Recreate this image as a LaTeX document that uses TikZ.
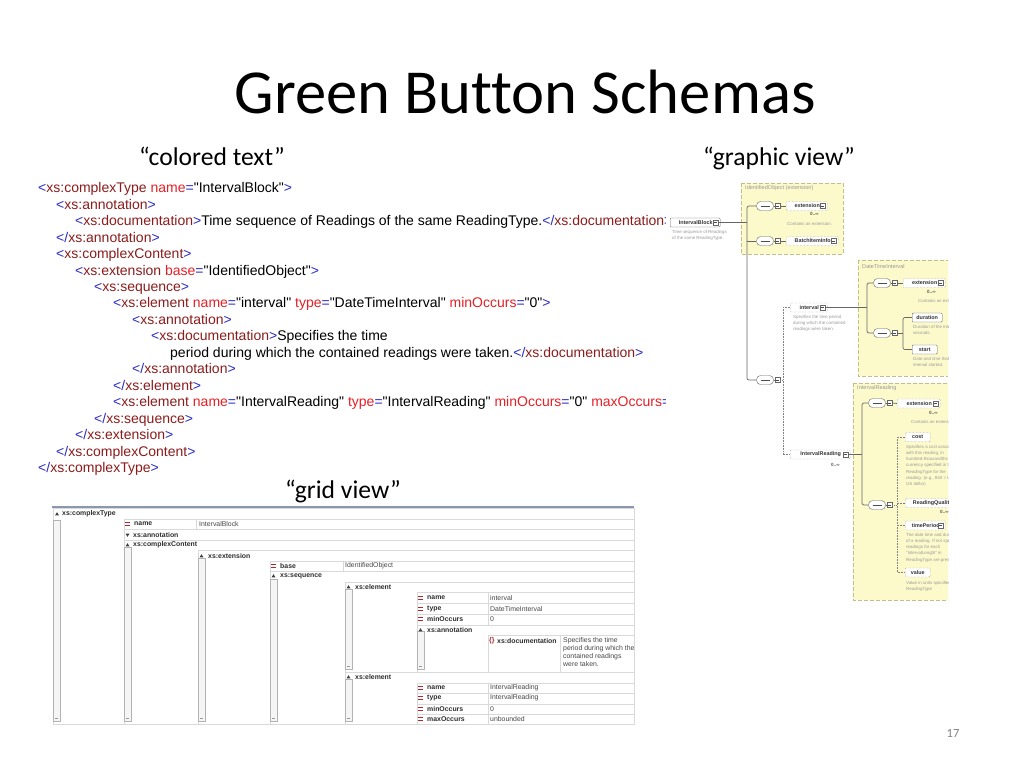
\documentclass[tikz,border=0pt]{standalone}
\usepackage{fontspec}
\setmainfont{Carlito}[Ligatures=NoCommon]
\newfontfamily\arial{Liberation Sans}
\usetikzlibrary{calc}
\definecolor{xb}{HTML}{2B2BC8}
\definecolor{xm}{HTML}{8C1C1C}
\definecolor{xr}{HTML}{E52027}
\definecolor{yel}{HTML}{FCFACB}
\definecolor{yelb}{HTML}{C4BE8A}
\definecolor{gl}{HTML}{D9D9D9}
\definecolor{gtop}{HTML}{8A97AD}
\definecolor{eqred}{HTML}{B0282C}
\newcommand\xo[1]{\textcolor{xb}{<}\textcolor{xm}{#1}}
\newcommand\xcl[1]{\textcolor{xb}{</}\textcolor{xm}{#1}}
\newcommand\xg{\textcolor{xb}{>}}
\newcommand\xat[2]{\ \textcolor{xr}{#1}\textcolor{xb}{=}"#2"}
\tikzset{
 code/.style={anchor=base west, inner sep=0pt, font=\arial\fontsize{14}{16}\selectfont},
 sub/.style={anchor=base, inner sep=0pt, font=\fontsize{25.6}{30}\selectfont},
 gb/.style={anchor=west, inner sep=0pt, font=\arial\bfseries\fontsize{6.9}{7.5}\selectfont, text=black!82},
 gv/.style={anchor=west, inner sep=0pt, font=\arial\fontsize{6.9}{8}\selectfont, text=black!72},
 gline/.style={draw=gl, line width=0.6pt},
 sbarst/.style={draw=black!30, fill=black!4, line width=0.5pt},
 ybox/.style={fill=yel, draw=yelb, line width=0.7pt, dash pattern=on 4pt off 2pt},
 ylab/.style={anchor=west, inner sep=0pt, font=\arial\fontsize{5.6}{6}\selectfont, text=black!40},
 tiny/.style={anchor=north west, inner sep=0pt, align=left, font=\arial\fontsize{4.4}{6.2}\selectfont, text=black!40},
 mult/.style={anchor=north west, inner sep=0pt, font=\arial\bfseries\fontsize{4.6}{5}\selectfont, text=black!65},
 gel/.style={anchor=west, draw=black!55, densely dotted, fill=white, rounded corners=1pt, minimum height=9pt, inner sep=0pt, font=\arial\bfseries\fontsize{5.4}{6}\selectfont, text=black!80},
 gels/.style={gel, solid, draw=black!60},
 sq/.style={draw=black!60, solid, fill=white, minimum size=5pt, inner sep=0pt, rounded corners=0pt, path picture={\draw[black!70, line width=0.4pt] ([xshift=1pt]path picture bounding box.west) -- ([xshift=-1pt]path picture bounding box.east);}},
 comp/.style={draw=black!60, fill=white, rounded corners=4pt, minimum width=17pt, minimum height=9pt, inner sep=0pt},
 conn/.style={draw=black!60, line width=0.7pt},
 dconn/.style={draw=black!50, line width=0.6pt, densely dotted},
}
\newcommand\compo[3]{%
 \node[comp] (#1) at (#2,#3) {};
 \draw[black!70, line width=0.6pt] ($(#1.center)+(-4.5,0)$) -- ($(#1.center)+(4.5,0)$);
 \node[sq] (#1s) at ($(#1.east)+(4,0)$) {};
 \draw[conn] (#1.east) -- (#1s.west);}
\newcommand\elbox[6]{%
 \node[#1, minimum width=#5pt] (#2) at (#3,#4) {\hspace{1pt}#6\hspace{8pt}};
 \node[sq] (#2s) at ($(#2.east)+(-4.5,0)$) {};}
\newcommand\tri[2]{\fill[black!75] ({#1-2},{#2+1.4}) -- ({#1+2},{#2+1.4}) -- (#1,{#2-1.8}) -- cycle;}
\newcommand\trd[2]{\fill[black!75] ({#1-2},{#2-1.4}) -- ({#1+2},{#2-1.4}) -- (#1,{#2+1.8}) -- cycle;}
\newcommand\eqi[2]{\fill[eqred] (#1,{#2-1.7}) rectangle ++(5,1.1); \fill[eqred] (#1,{#2+0.6}) rectangle ++(5,1.1);}
\newcommand\sbar[3]{\draw[sbarst] (#1,#2) rectangle ({#1+7},#3); \draw[black!40,line width=0.4pt] ({#1+2},{#3-3}) -- ({#1+5},{#3-3});}
\begin{document}
\begin{tikzpicture}[x=1pt,y=-1pt]
\useasboundingbox (0,0) rectangle (1024,768);
\fill[white] (0,0) rectangle (1024,768);
% title and captions
\node[anchor=base, inner sep=0pt, font=\fontsize{62.6}{70}\selectfont] (title) at (525,113) {Green Button Schemas};
\node[sub] (s1) at (212,165) {“colored text”};
\node[sub] (s2) at (779,165) {“graphic view”};
\node[sub] (s3) at (343,498) {“grid view”};
\node[inner sep=0pt, font=\fontsize{12.5}{14}\selectfont, text=black!50] (pg) at (953,733) {17};
% colored text
\begin{scope}
\clip (0,170) rectangle (665,480);
\node[code] (l1) at (38,192) {\xo{xs:complexType}\xat{name}{IntervalBlock}\xg};
\node[code] (l2) at (56,209) {\xo{xs:annotation}\xg};
\node[code] (l3) at (75,225) {\xo{xs:documentation}\xg Time sequence of Readings of the same ReadingType.\xcl{xs:documentation}\xg};
\node[code] (l4) at (56,242) {\xcl{xs:annotation}\xg};
\node[code] (l5) at (56,258) {\xo{xs:complexContent}\xg};
\node[code] (l6) at (75,275) {\xo{xs:extension}\xat{base}{IdentifiedObject}\xg};
\node[code] (l7) at (94,291) {\xo{xs:sequence}\xg};
\node[code] (l8) at (113,307) {\xo{xs:element}\xat{name}{interval}\xat{type}{DateTimeInterval}\xat{minOccurs}{0}\xg};
\node[code] (l9) at (132,324) {\xo{xs:annotation}\xg};
\node[code] (l10) at (151,340) {\xo{xs:documentation}\xg Specifies the time};
\node[code] (l11) at (170,357) {period during which the contained readings were taken.\xcl{xs:documentation}\xg};
\node[code] (l12) at (132,373) {\xcl{xs:annotation}\xg};
\node[code] (l13) at (113,390) {\xcl{xs:element}\xg};
\node[code] (l14) at (113,406) {\xo{xs:element}\xat{name}{IntervalReading}\xat{type}{IntervalReading}\xat{minOccurs}{0}\xat{maxOccurs}{unbounded}\textcolor{xb}{/>}};
\node[code] (l15) at (94,423) {\xcl{xs:sequence}\xg};
\node[code] (l16) at (75,439) {\xcl{xs:extension}\xg};
\node[code] (l17) at (56,456) {\xcl{xs:complexContent}\xg};
\node[code] (l18) at (38,472) {\xcl{xs:complexType}\xg};
\end{scope}
% graphic view
\begin{scope}
\clip (668,178) rectangle (948,604);
\draw[ybox] (741,183) rectangle (843,254);
\draw[ybox] (858,260) rectangle (962,376);
\draw[ybox] (853,383) rectangle (962,600);
\node[ylab] (lb1) at (745,188) {IdentifiedObject (extension)};
\node[ylab] (lb2) at (862,266) {DateTimeInterval};
\node[ylab] (lb3) at (857,388) {IntervalReading};
\elbox{gels}{ib}{670}{222.5}{50}{IntervalBlock}
\node[tiny] (ibd) at (672,230) {Time sequence of Readings\\of the same ReadingType.};
\coordinate (t1) at (747,222.5);
\compo{c1}{765}{206}
\compo{c2}{765}{241}
\compo{c3}{765}{380}
\draw[conn] (ibs.east) -- (t1);
\draw[conn, rounded corners=2pt] (c1.west) -- (c1.west -| t1) -- (c3.west -| t1) -- (c3.west);
\draw[conn] (c2.west) -- (c2.west -| t1);
\elbox{gel}{e1}{786}{206}{41}{extension}
\draw[conn] (c1s.east) -- (e1.west);
\node[mult] (e1m) at (810,212) {0..∞};
\node[tiny] (e1d) at (787,222) {Contains an extension.};
\elbox{gel}{bi}{786}{241}{52}{BatchItemInfo}
\draw[conn] (c2s.east) -- (bi.west);
% interval
\elbox{gel}{iv}{790}{307.5}{37}{interval}
\node[tiny] (ivd) at (793,315) {Specifies the time period\\during which the contained\\readings were taken.};
\coordinate (d1) at (783,380);
\draw[dconn] (c3s.east) -- (d1);
\elbox{gel}{ir}{790}{454.5}{60}{IntervalReading}
\node[mult] (irm) at (831,463) {0..∞};
\draw[dconn] (iv.west) -- (iv.west -| d1) -- (ir.west -| d1) -- (ir.west);
% DateTimeInterval
\coordinate (t2) at (867,307.5);
\draw[conn] (ivs.east) -- (t2);
\compo{c4}{882}{283}
\compo{c5}{882}{333}
\draw[conn, rounded corners=2pt] (c4.west) -- (c4.west -| t2) -- (c5.west -| t2) -- (c5.west);
\elbox{gel}{e2}{903}{283}{42}{extension}
\draw[conn] (c4s.east) -- (e2.west);
\node[mult] (e2m) at (927,290) {0..∞};
\node[tiny] (e2d) at (918,299) {Contains an extension.};
\coordinate (t3) at (903,333);
\draw[conn] (c5s.east) -- (t3);
\node[gels, minimum width=30pt] (du) at (912,317.5) {duration};
\node[gels, minimum width=25pt] (st) at (912,349.5) {start};
\draw[conn, rounded corners=2pt] (du.west) -- (du.west -| t3) -- (st.west -| t3) -- (st.west);
\node[tiny] (dud) at (913,325) {Duration of the interval, in\\seconds.};
\node[tiny] (std) at (913,357) {Date and time that the\\interval started.};
% IntervalReading
\coordinate (t4) at (862,454.5);
\draw[conn] (irs.east) -- (t4);
\compo{c6}{877}{403}
\compo{c7}{877}{505}
\draw[conn, rounded corners=2pt] (c6.west) -- (c6.west -| t4) -- (c7.west -| t4) -- (c7.west);
\elbox{gel}{e3}{897}{403.5}{43}{extension}
\draw[conn] (c6s.east) -- (e3.west);
\node[mult] (e3m) at (929,411) {0..∞};
\node[tiny] (e3d) at (911,420) {Contains an extension.};
\coordinate (t5) at (897,505);
\draw[dconn] (c7s.east) -- (t5);
\node[gel, minimum width=25pt] (co) at (905,437) {cost};
\elbox{gel}{rq}{905}{503}{54}{ReadingQuality}
\elbox{gel}{tp}{905}{525.5}{40}{timePeriod}
\node[gel, minimum width=25pt] (va) at (905,572.5) {value};
\draw[dconn] (co.west) -- (co.west -| t5) -- (va.west -| t5) -- (va.west);
\draw[dconn] (rq.west) -- (rq.west -| t5);
\draw[dconn] (tp.west) -- (tp.west -| t5);
\node[tiny] (cod) at (906,445) {Specifies a cost associated\\with this reading, in\\hundred-thousandths of the\\currency specified in the\\ReadingType for the\\reading. (e.g., 840 = USD,\\US dollar)};
\node[mult] (rqm) at (940,510) {0..∞};
\node[tiny] (tpd) at (906,533) {The date time and duration\\of a reading. If not specified,\\readings for each\\"intervalLength" in\\ReadingType are present.};
\node[tiny] (vad) at (906,581) {Value in units specified by\\ReadingType};
\end{scope}
% grid view
\draw[gline] (53,508) rectangle (634,724);
\draw[gtop, line width=1.2pt] (52,507) -- (634,507);
\draw[gline] (124,519) rectangle (634,724);
\draw[gline] (124,529) -- (634,529) (124,540) -- (634,540) (196,519) -- (196,529);
\draw[gline] (198,550) rectangle (634,724);
\draw[gline] (270,561) rectangle (634,724);
\draw[gline] (270,571) -- (634,571) (343,561) -- (343,571);
\draw[gline] (345,582) rectangle (634,672);
\draw[gline] (345,672) rectangle (634,724);
\draw[gline] (417,592) rectangle (634,672);
\draw[gline] (417,603) -- (634,603) (417,614) -- (634,614) (417,625) -- (634,625) (488,592) -- (488,625);
\draw[gline] (488,635) rectangle (634,672);
\draw[gline] (560,635) -- (560,672);
\draw[gline] (417,683) rectangle (634,724);
\draw[gline] (417,693) -- (634,693) (417,704) -- (634,704) (417,714) -- (634,714) (488,683) -- (488,724);
\sbar{53}{520}{721}
\sbar{124}{547}{721}
\sbar{198}{558}{721}
\sbar{270}{579}{721}
\sbar{345}{589}{669}
\sbar{417}{631}{669}
\sbar{345}{679}{721}
\tri{57}{514}
\trd{127.5}{535}
\tri{127.5}{545}
\tri{201.5}{556}
\tri{273.5}{576}
\tri{348.5}{587}
\tri{420.5}{630}
\tri{348.5}{677}
\eqi{125}{524}
\eqi{271}{566}
\eqi{418}{598}
\eqi{418}{609}
\eqi{418}{619}
\eqi{418}{688}
\eqi{418}{698}
\eqi{418}{709}
\eqi{418}{719}
\node[gb] (g1) at (62,514) {xs:complexType};
\node[gb] (g2) at (134,524) {name};
\node[gv] (g3) at (199,524) {IntervalBlock};
\node[gb] (g4) at (133,535) {xs:annotation};
\node[gb] (g5) at (133,545) {xs:complexContent};
\node[gb] (g6) at (208,556) {xs:extension};
\node[gb] (g7) at (280,566) {base};
\node[gv] (g8) at (345,566) {IdentifiedObject};
\node[gb] (g9) at (280,576) {xs:sequence};
\node[gb] (g10) at (355,587) {xs:element};
\node[gb] (g11) at (427,598) {name};
\node[gv] (g12) at (490,598) {interval};
\node[gb] (g13) at (427,609) {type};
\node[gv] (g14) at (490,609) {DateTimeInterval};
\node[gb] (g15) at (427,619) {minOccurs};
\node[gv] (g16) at (490,619) {0};
\node[gb] (g17) at (427,630) {xs:annotation};
\node[gb, text=eqred] (g18) at (489,641) {\{\}};
\node[gb] (g19) at (497,641) {xs:documentation};
\node[gv, anchor=north west, align=left] (g20) at (563,637) {Specifies the time\\period during which the\\contained readings\\were taken.};
\node[gb] (g21) at (355,677) {xs:element};
\node[gb] (g22) at (427,688) {name};
\node[gv] (g23) at (490,688) {IntervalReading};
\node[gb] (g24) at (427,698) {type};
\node[gv] (g25) at (490,698) {IntervalReading};
\node[gb] (g26) at (427,709) {minOccurs};
\node[gv] (g27) at (490,709) {0};
\node[gb] (g28) at (427,719) {maxOccurs};
\node[gv] (g29) at (490,719) {unbounded};
\end{tikzpicture}
\end{document}
